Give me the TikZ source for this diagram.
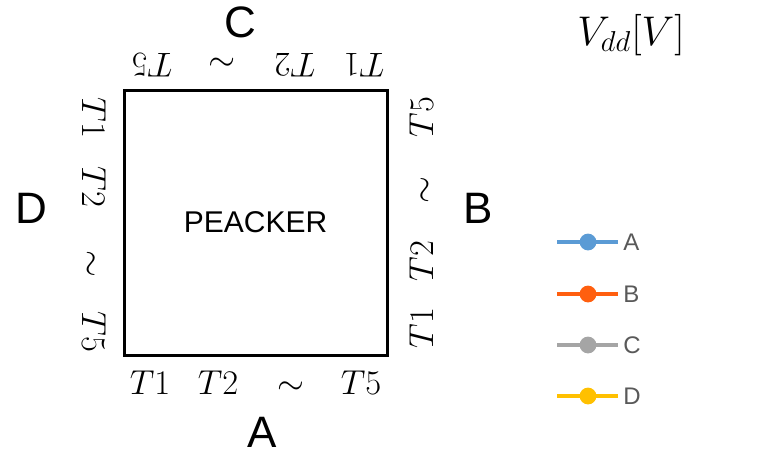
\documentclass[tikz,border=0pt]{standalone}
\usepackage{fontspec}
\setsansfont{Liberation Sans}
\definecolor{lBlue}{HTML}{5B9BD5}
\definecolor{lOrange}{HTML}{FF5F0F}
\definecolor{lGray}{HTML}{A5A5A5}
\definecolor{lGold}{HTML}{FFC000}
\definecolor{lText}{HTML}{595959}
\usetikzlibrary{positioning}

\begin{document}
\begin{tikzpicture}[x=0.5pt, y=-0.5pt,
  chip/.style={draw=black, line width=1.5pt, minimum width=131.5pt,
               minimum height=132.5pt, font=\sffamily\fontsize{15}{18}\selectfont},
  side/.style={anchor=base, inner sep=0pt, font=\sffamily\fontsize{22}{26}\selectfont},
  pinlbl/.style={anchor=base, inner sep=0pt, font=\fontsize{16}{19}\selectfont},
  leg/.style={anchor=base west, inner sep=0pt, text=lText,
              font=\sffamily\fontsize{12}{14}\selectfont}]
  \useasboundingbox (0,0) rectangle (760,461);
  \node[chip] (chip) at (255.5,222.5) {PEACKER};
  % side names
  \node[side] (sA) at (262,447) {A};
  \node[side] (sB) at (478,223) {B};
  \node[side] (sC) at (240,37)  {C};
  \node[side] (sD) at (31,223)  {D};
  % pin labels round the chip
  \foreach \x/\t [count=\i] in {150/T1, 218/T2, 291/\sim, 361/T5}
    \node[pinlbl] (pA\i) at (\x,394) {$\t$};
  \foreach \y/\t [count=\i] in {328/T1, 261/T2, 190/\sim, 117/T5}
    \node[pinlbl, rotate=90] (pB\i) at (433,\y) {$\t$};
  \foreach \x/\t [count=\i] in {364/T1, 295/T2, 222/\sim, 152/T5}
    \node[pinlbl, rotate=180] (pC\i) at (\x,53) {$\t$};
  \foreach \y/\t [count=\i] in {118/T1, 187/T2, 264/\sim, 332/T5}
    \node[pinlbl, rotate=-90] (pD\i) at (82,\y) {$\t$};
  % legend
  \node[anchor=base, inner sep=0pt, font=\fontsize{20}{24}\selectfont]
    (vdd) at (631,45) {$V_{dd}[V]$};
  \foreach \y/\c/\t [count=\i] in {242/lBlue/A, 294/lOrange/B, 345/lGray/C, 396/lGold/D}{
    \coordinate (l\i) at (557,\y);
    \coordinate (r\i) at (618,\y);
    \draw[\c, line width=2.4pt] (l\i) -- (r\i);
    \fill[\c] (588,\y) circle[radius=4.2pt];
    \node[leg] (t\i) at (623,\y+8) {\t};}
\end{tikzpicture}
\end{document}
